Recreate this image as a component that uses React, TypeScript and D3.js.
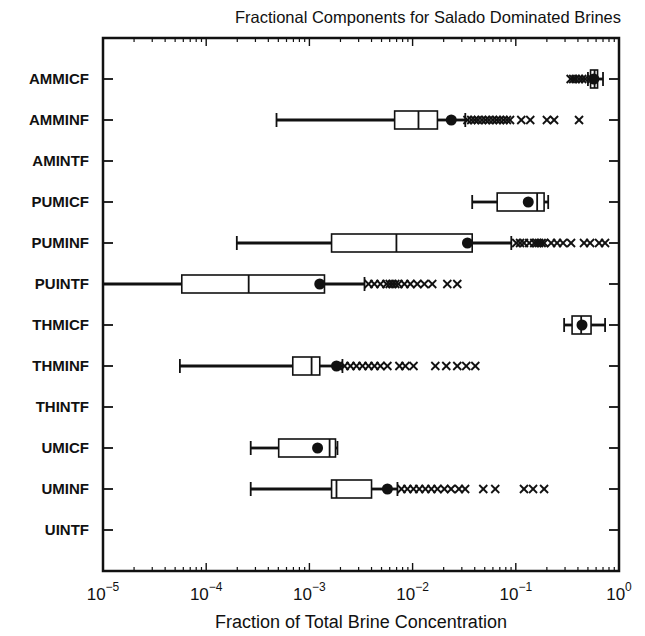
import React from "react";
import * as d3 from "d3";

const categories = [
  "AMMICF", "AMMINF", "AMINTF", "PUMICF", "PUMINF", "PUINTF",
  "THMICF", "THMINF", "THINTF", "UMICF", "UMINF", "UINTF",
];
// null = no data for that component
const whiskerLow: (number | null)[] = [0.5, 4.8e-4, null, 0.0378, 1.98e-4, 1e-5, 0.294, 5.56e-5, null, 2.7e-4, 2.7e-4, null];
const q1: (number | null)[] = [0.53, 6.7e-3, null, 0.066, 1.64e-3, 5.8e-5, 0.351, 6.9e-4, null, 5.04e-4, 1.64e-3, null];
const median: (number | null)[] = [0.58, 0.0114, null, 0.161, 6.97e-3, 2.58e-4, 0.43, 1.05e-3, null, 1.57e-3, 1.83e-3, null];
const q3: (number | null)[] = [0.62, 0.0174, null, 0.188, 0.0378, 1.4e-3, 0.536, 1.26e-3, null, 1.79e-3, 4.0e-3, null];
const whiskerHigh: (number | null)[] = [0.7, 0.0324, null, 0.206, 0.0904, 3.42e-3, 0.733, 2.09e-3, null, 1.87e-3, 7.13e-3, null];
const means: (number | null)[] = [0.57, 0.0237, null, 0.132, 0.034, 1.26e-3, 0.438, 1.83e-3, null, 1.2e-3, 5.7e-3, null];
const outliers: number[][] = [
  [0.34, 0.36, 0.38, 0.41, 0.44, 0.47],
  [0.034, 0.037, 0.04, 0.043, 0.047, 0.051, 0.055, 0.06, 0.065, 0.07, 0.076, 0.082, 0.088, 0.113, 0.138, 0.2, 0.235, 0.41],
  [],
  [],
  [0.101, 0.11, 0.12, 0.135, 0.151, 0.16, 0.168, 0.178, 0.188, 0.22, 0.251, 0.287, 0.343, 0.458, 0.525, 0.641, 0.733],
  [3.74e-3, 4.26e-3, 4.88e-3, 5.58e-3, 6.0e-3, 6.38e-3, 6.8e-3, 7.29e-3, 8.33e-3, 9.52e-3, 0.0111, 0.013, 0.0155, 0.0217, 0.0271],
  [],
  [2.19e-3, 2.5e-3, 2.86e-3, 3.27e-3, 3.74e-3, 4.27e-3, 4.88e-3, 5.7e-3, 7.45e-3, 8.51e-3, 0.0102, 0.0166, 0.0212, 0.0271, 0.0331, 0.0405],
  [],
  [],
  [7.8e-3, 8.9e-3, 0.0102, 0.0116, 0.0133, 0.0152, 0.0174, 0.0203, 0.0236, 0.0281, 0.0323, 0.0484, 0.0632, 0.12, 0.147, 0.188],
  [],
];
const xTickExponents = [-5, -4, -3, -2, -1, 0];

const title = "Fractional Components for Salado Dominated Brines";
const xTitle = "Fraction of Total Brine Concentration";

const W = 645;
const H = 636;
const M = { left: 103, right: 619, top: 38, bottom: 571 };

export default function App() {
  const x = d3.scaleLog().domain([1e-5, 1]).range([M.left, M.right]);
  const y = d3
    .scalePoint<string>()
    .domain(categories)
    .range([M.top, M.bottom])
    .padding(1);

  const majors = xTickExponents.map((e) => Math.pow(10, e));
  const minors: number[] = [];
  for (let e = -5; e < 0; e++) {
    for (let k = 2; k <= 9; k++) minors.push(k * Math.pow(10, e));
  }

  const boxH = 18;
  const capH = 14;
  const font = "'Liberation Sans', Arial, Helvetica, sans-serif";

  return (
    <svg width={W} height={H} style={{ position: "absolute", left: 0, top: 0, background: "#fff" }}>
      <rect x={0} y={0} width={W} height={H} fill="#fff" />
      <text x={621} y={23} textAnchor="end" fontFamily={font} fontSize={16.5} fill="#111">
        {title}
      </text>

      {/* boxes */}
      {categories.map((c, i) => {
        const cy = y(c) as number;
        const lo = whiskerLow[i];
        if (lo == null) return null;
        const a = q1[i] as number;
        const b = q3[i] as number;
        const md = median[i] as number;
        const hi = whiskerHigh[i] as number;
        const mn = means[i] as number;
        return (
          <g key={c}>
            <line x1={x(lo)} x2={x(a)} y1={cy} y2={cy} stroke="#111" strokeWidth={2.8} />
            <line x1={x(b)} x2={x(hi)} y1={cy} y2={cy} stroke="#111" strokeWidth={2.8} />
            <line x1={x(lo)} x2={x(lo)} y1={cy - capH / 2} y2={cy + capH / 2} stroke="#111" strokeWidth={1.8} />
            <line x1={x(hi)} x2={x(hi)} y1={cy - capH / 2} y2={cy + capH / 2} stroke="#111" strokeWidth={1.8} />
            <rect x={x(a)} y={cy - boxH / 2} width={x(b) - x(a)} height={boxH} fill="#fff" stroke="#111" strokeWidth={1.6} />
            <line x1={x(md)} x2={x(md)} y1={cy - boxH / 2} y2={cy + boxH / 2} stroke="#111" strokeWidth={1.8} />
            {outliers[i].map((v, j) => {
              const px = x(v);
              const s = 4;
              return (
                <g key={j} stroke="#111" strokeWidth={1.8}>
                  <line x1={px - s} x2={px + s} y1={cy - s} y2={cy + s} />
                  <line x1={px - s} x2={px + s} y1={cy + s} y2={cy - s} />
                </g>
              );
            })}
            <circle cx={x(mn)} cy={cy} r={5.5} fill="#111" />
          </g>
        );
      })}

      {/* frame */}
      <rect x={M.left} y={M.top} width={M.right - M.left} height={M.bottom - M.top} fill="none" stroke="#111" strokeWidth={2.5} />

      {/* y ticks and labels */}
      {categories.map((c) => {
        const cy = y(c) as number;
        return (
          <g key={"yt" + c}>
            <line x1={M.left} x2={M.left + 10} y1={cy} y2={cy} stroke="#111" strokeWidth={1.8} />
            <line x1={M.right - 10} x2={M.right} y1={cy} y2={cy} stroke="#111" strokeWidth={1.8} />
            <text x={89} y={cy + 5} textAnchor="end" fontFamily={font} fontSize={15} fontWeight="bold" fill="#111">
              {c}
            </text>
          </g>
        );
      })}

      {/* x ticks */}
      {minors.map((v, i) => (
        <g key={"mn" + i} stroke="#111" strokeWidth={1.2}>
          <line x1={x(v)} x2={x(v)} y1={M.bottom} y2={M.bottom - 4} />
          <line x1={x(v)} x2={x(v)} y1={M.top} y2={M.top + 4} />
        </g>
      ))}
      {majors.map((v, i) => (
        <g key={"mj" + i}>
          <line x1={x(v)} x2={x(v)} y1={M.bottom} y2={M.bottom - 8} stroke="#111" strokeWidth={1.4} />
          <line x1={x(v)} x2={x(v)} y1={M.top} y2={M.top + 8} stroke="#111" strokeWidth={1.4} />
          <text x={x(v)} y={600} textAnchor="middle" fontFamily={font} fontSize={17} fill="#111">
            10
            <tspan dy={-9} fontSize={12}>
              {xTickExponents[i] === 0 ? "0" : "\u2212" + Math.abs(xTickExponents[i])}
            </tspan>
          </text>
        </g>
      ))}

      <text x={(M.left + M.right) / 2} y={628} textAnchor="middle" fontFamily={font} fontSize={18} fill="#111">
        {xTitle}
      </text>
    </svg>
  );
}
